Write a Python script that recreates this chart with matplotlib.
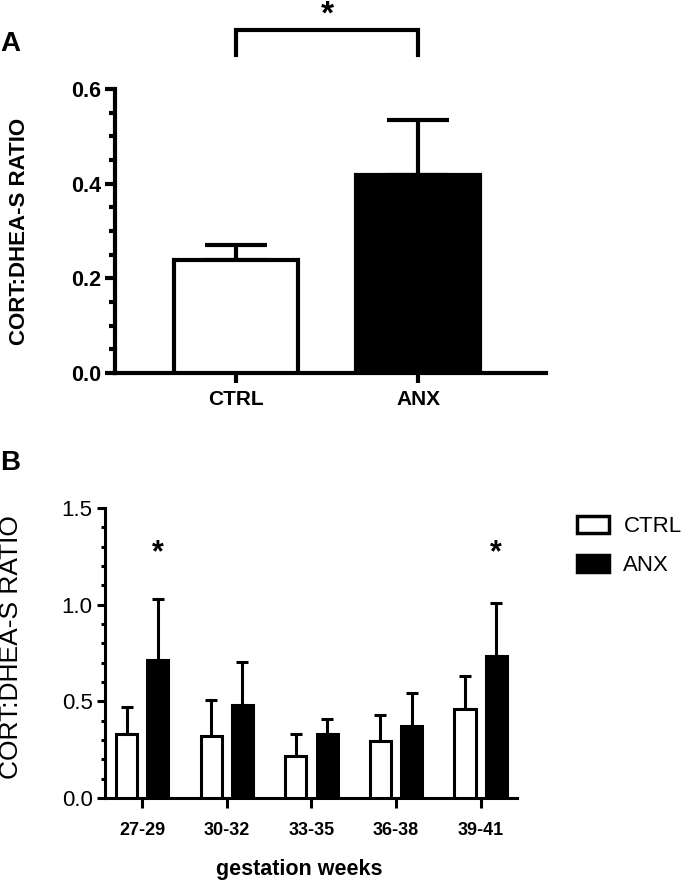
import matplotlib
matplotlib.use("Agg")
import matplotlib.pyplot as plt
from matplotlib.patches import Patch
from matplotlib.ticker import MultipleLocator
from matplotlib.transforms import blended_transform_factory

plt.rcParams['font.family'] = ['Liberation Sans', 'DejaVu Sans']

# panel A: overall ratio
groups_a = ["CTRL", "ANX"]
mean_a = [0.238, 0.419]
err_a = [0.032, 0.116]

# panel B: by gestation weeks
weeks = ["27-29", "30-32", "33-35", "36-38", "39-41"]
ctrl_b = [0.331, 0.322, 0.217, 0.296, 0.460]
ctrl_err_b = [0.140, 0.185, 0.114, 0.134, 0.173]
anx_b = [0.714, 0.481, 0.331, 0.370, 0.737]
anx_err_b = [0.315, 0.224, 0.077, 0.172, 0.273]
sig_b = [0, 4]  # groups with *

fig = plt.figure(figsize=(6.85, 8.81), dpi=100)

# ---------------- A ----------------
ax = fig.add_axes([0.1679, 0.5766, 0.629, 0.3224])
lw = 3
xa = list(range(len(groups_a)))
ax.bar(xa[0], mean_a[0], width=0.68, color='white', edgecolor='black', linewidth=lw, zorder=3)
ax.bar(xa[1], mean_a[1], width=0.68, color='black', edgecolor='black', linewidth=lw, zorder=3)
ax.errorbar(xa, mean_a, yerr=[[0, 0], err_a], fmt='none', ecolor='black',
            elinewidth=lw, capsize=22, capthick=lw, zorder=2)
ax.set_xlim(-0.663, 1.70)
ax.set_ylim(0, 0.6)
ax.set_xticks(xa)
ax.set_xticklabels(groups_a, fontsize=15, fontweight='bold')
ax.yaxis.set_major_locator(MultipleLocator(0.2))
ax.yaxis.set_minor_locator(MultipleLocator(0.05))
ax.yaxis.set_major_formatter(plt.FormatStrFormatter('%.1f'))
for t in ax.get_yticklabels():
    t.set_fontweight('bold')
ax.tick_params(axis='y', which='major', labelsize=15.5, length=7, width=lw, pad=3)
ax.tick_params(axis='y', which='minor', length=4, width=lw)
ax.tick_params(axis='x', which='major', labelsize=15, length=7, width=lw, pad=5)
for s in ['top', 'right']:
    ax.spines[s].set_visible(False)
for s in ['left', 'bottom']:
    ax.spines[s].set_linewidth(lw)
ax.set_ylabel("CORT:DHEA-S RATIO", fontsize=16, fontweight='bold')
ax.yaxis.set_label_coords(-0.197, 0.5)
# significance bracket
ax.plot([0, 0, 1, 1], [0.672, 0.725, 0.725, 0.672], color='black', lw=lw,
        clip_on=False, solid_joinstyle='miter')
star_tr = blended_transform_factory(ax.transData, fig.transFigure)
ax.text(0.5, 1.0, "*", ha='center', va='top', fontsize=24, fontweight='bold',
        transform=star_tr, clip_on=False)
fig.text(0.0, 1 - 44 / 881, "A", fontsize=20, fontweight='bold', va='center', ha='left')

# ---------------- B ----------------
bx = fig.add_axes([0.1533, 0.0942, 0.6015, 0.3292])
lwb = 2.2
xb = list(range(len(weeks)))
off = 0.185
wb = 0.25
bx.bar([x - off for x in xb], ctrl_b, width=wb, color='white', edgecolor='black',
       linewidth=lwb, zorder=3, label="CTRL")
bx.bar([x + off for x in xb], anx_b, width=wb, color='black', edgecolor='black',
       linewidth=lwb, zorder=3, label="ANX")
bx.errorbar([x - off for x in xb], ctrl_b, yerr=[[0] * len(xb), ctrl_err_b], fmt='none',
            ecolor='black', elinewidth=lwb, capsize=4, capthick=lwb, zorder=2)
bx.errorbar([x + off for x in xb], anx_b, yerr=[[0] * len(xb), anx_err_b], fmt='none',
            ecolor='black', elinewidth=lwb, capsize=4, capthick=lwb, zorder=2)
for i in sig_b:
    bx.text(i + off, 1.19, "*", ha='center', va='bottom', fontsize=22, fontweight='bold')
bx.set_xlim(-0.44, 4.43)
bx.set_ylim(0, 1.5)
bx.set_xticks(xb)
bx.set_xticklabels(weeks, fontsize=13, fontweight='bold')
bx.yaxis.set_major_locator(MultipleLocator(0.5))
bx.yaxis.set_minor_locator(MultipleLocator(0.1))
bx.yaxis.set_major_formatter(plt.FormatStrFormatter('%.1f'))
bx.tick_params(axis='y', which='major', labelsize=16, length=6, width=lwb, pad=3)
bx.tick_params(axis='y', which='minor', length=3, width=lwb)
bx.tick_params(axis='x', which='major', length=7, width=lwb, pad=10)
for s in ['top', 'right']:
    bx.spines[s].set_visible(False)
for s in ['left', 'bottom']:
    bx.spines[s].set_linewidth(lwb)
bx.set_ylabel("CORT:DHEA-S RATIO", fontsize=19)
bx.yaxis.set_label_coords(-0.2, 0.52)
bx.set_xlabel("gestation weeks", fontsize=15.5, fontweight='bold', va='center')
bx.xaxis.set_label_coords(0.472, -0.248)

handles = [Patch(facecolor='white', edgecolor='black', linewidth=2.5),
           Patch(facecolor='black', edgecolor='black', linewidth=2.5)]
fig.legend(handles, ["CTRL", "ANX"], loc='upper left', bbox_to_anchor=(0.842, 0.414),
           frameon=False, fontsize=16, handlelength=1.45, handleheight=0.8,
           handletextpad=0.65, labelspacing=0.8, borderpad=0, borderaxespad=0)
fig.text(0.0, 1 - 463 / 881, "B", fontsize=20, fontweight='bold', va='center', ha='left')

fig.savefig("out.png", dpi=100)
